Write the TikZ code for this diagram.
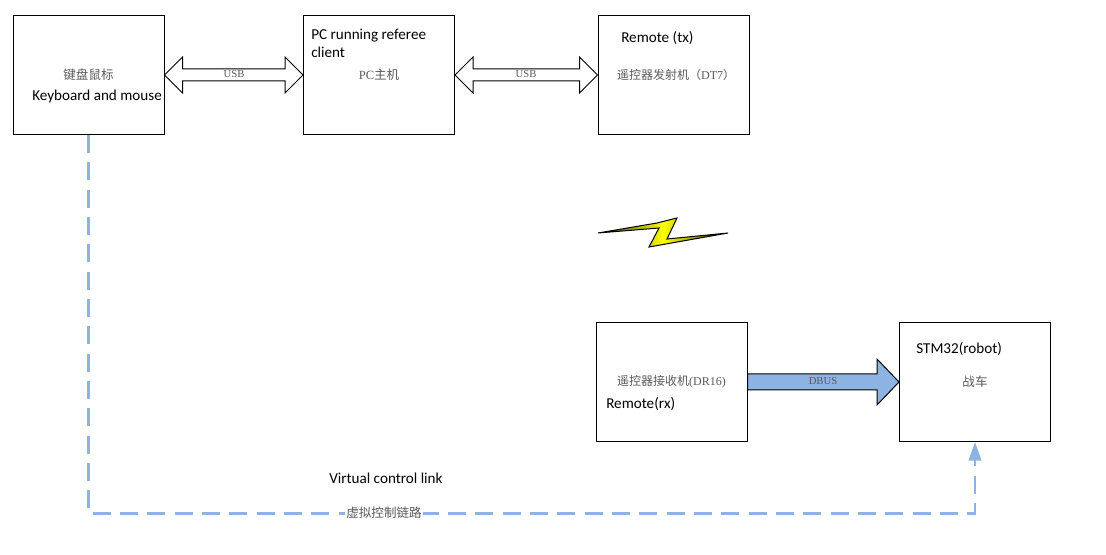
\documentclass[tikz,border=0pt]{standalone}
\usepackage{fontspec}
\setmainfont{Liberation Serif}
\newfontfamily\cjkfont{Noto Sans CJK SC}
\newfontfamily\enfont{Carlito}
\usetikzlibrary{calc,arrows.meta}
\definecolor{linkblue}{HTML}{8DB3E2}
\definecolor{labelgray}{HTML}{595959}
\tikzset{
  blockbox/.style={draw,line width=0.75pt,minimum width=113.25pt,minimum height=89.25pt,inner sep=0pt,text=labelgray,font=\fontsize{9.4}{11}\selectfont},
  remotebox/.style={blockbox,font=\fontsize{9}{11}\selectfont},
  enlabel/.style={anchor=west,inner sep=0pt,align=left,font=\enfont\fontsize{11.35}{13.5}\selectfont},
  buslabel/.style={inner sep=0pt,text=labelgray,font=\fontsize{8}{9}\selectfont},
  widearrow/.style={draw,line width=0.75pt,line join=miter},
  linkline/.style={linkblue,line width=1.6pt,dash pattern=on 13.5pt off 7pt,-{Triangle[length=14pt,width=9.5pt]}}
}
\begin{document}
\begin{tikzpicture}[x=0.75pt,y=-0.75pt]
\useasboundingbox (0,0) rectangle (1106,555);
\node[blockbox] (keyboard) at(88.5,75) {{\cjkfont 键盘鼠标}};
\node[blockbox] (pc) at(379,75) {PC{\cjkfont 主机}};
\node[remotebox] (remotetx) at(673.5,75) {\hspace*{4pt}{\cjkfont 遥控器发射机（}DT7{\cjkfont ）}};
\node[remotebox] (remoterx) at(671.5,382) {{\cjkfont 遥控器接收机}(DR16)};
\node[blockbox] (robot) at(975,382) {{\cjkfont 战车}};
\node[enlabel] (keyboarden) at(32,96.5) {Keyboard and mouse};
\node[enlabel] (pcen) at(311,43.5) {PC running referee\\client};
\node[enlabel] (remotetxen) at(621,38) {Remote (tx)};
\node[enlabel] (remoterxen) at(606,404.5) {Remote(rx)};
\node[enlabel] (roboten) at(916,349.5) {STM32(robot)};
\node[enlabel] (linken) at(329,478.5) {Virtual control link};
\draw[widearrow,fill=white] (keyboard.east)--++(18,-18)--++(0,12)--($(pc.west)+(-18,-6)$)--++(0,-12)--(pc.west)--++(-18,18)--++(0,-12)--($(keyboard.east)+(18,6)$)--++(0,12)--cycle;
\draw[widearrow,fill=white] (pc.east)--++(18,-18)--++(0,12)--($(remotetx.west)+(-18,-6)$)--++(0,-12)--(remotetx.west)--++(-18,18)--++(0,-12)--($(pc.east)+(18,6)$)--++(0,12)--cycle;
\draw[widearrow,fill=linkblue] ($(remoterx.east)+(0,-8)$)--($(robot.west)+(-22,-8)$)--++(0,-15)--(robot.west)--++(-22,23)--++(0,-15)--($(remoterx.east)+(0,8)$)--cycle;
\node[buslabel] (usbleft) at(234,74) {USB};
\node[buslabel] (usbright) at(526,74) {USB};
\node[buslabel] (dbus) at(823,381) {DBUS};
\draw[linkline] (keyboard.south)|-($(robot.south)+(0,71.5)$)--(robot.south);
\node[fill=white,inner sep=1pt,text=labelgray,font=\cjkfont\fontsize{9.4}{11}\selectfont] (linkzh) at(384,513) {虚拟控制链路};
\draw[line width=0.75pt,left color=black!80!yellow,right color=black!80!yellow,middle color=yellow,line join=miter] (598,233)--(657,223)--(677,218)--(667,239)--(728,233)--(649,247)--(659,228)--cycle;
\end{tikzpicture}
\end{document}
